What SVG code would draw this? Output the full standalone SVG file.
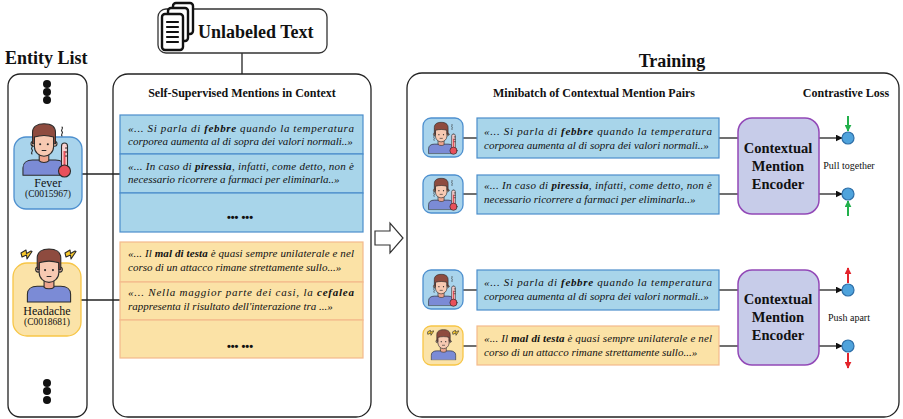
<svg xmlns="http://www.w3.org/2000/svg" xmlns:xlink="http://www.w3.org/1999/xlink" width="903" height="419" viewBox="0 0 903 419" font-family="'Liberation Serif', 'DejaVu Serif', serif">
  <style>
    text { font-family: "Liberation Serif", "DejaVu Serif", serif; fill: #111; }
    .title { font-size: 18px; font-weight: bold; }
    .head { font-size: 12px; font-weight: bold; }
    .q { font-size: 11px; font-style: italic; }
    .q .k { font-weight: bold; }
    .dots { font-family: "Liberation Sans", "DejaVu Sans", sans-serif; font-size: 11px; font-weight: bold; }
    .name { font-size: 12px; }
    .code { font-size: 9.5px; }
    .enc { font-size: 14.5px; font-weight: bold; }
    .lbl { font-size: 10px; }
    .panel { fill: #fff; stroke: #222; stroke-width: 1.3; }
    .blue { fill: #a8d5ea; stroke: #4b8ecb; stroke-width: 1.2; }
    .orange { fill: #fbe2a6; stroke: #f4b98c; stroke-width: 1.2; }
    .nblue { fill: #a9d4ec; stroke: #4e90cf; stroke-width: 1.3; }
    .norange { fill: #fbe3a8; stroke: #f7c647; stroke-width: 1.3; }
    .encoder { fill: #c7cce9; stroke: #9248b7; stroke-width: 1.5; }
    .emb { fill: #4fa3dc; stroke: #2f6fa8; stroke-width: 1.2; }
    .wire { stroke: #222; stroke-width: 1.3; fill: none; }
    .ink { stroke: #2b2b2b; stroke-width: 1.1; stroke-linejoin: round; stroke-linecap: round; }
  </style>
  <defs>
    <marker id="arrow-black" viewBox="0 0 10 10" refX="9" refY="5" markerWidth="7" markerHeight="7" markerUnits="userSpaceOnUse" orient="auto">
      <path d="M0,0 L10,5 L0,10 z" fill="#111"/>
    </marker>
    <marker id="arrow-green" viewBox="0 0 10 10" refX="9" refY="5" markerWidth="7" markerHeight="7" markerUnits="userSpaceOnUse" orient="auto">
      <path d="M0,0 L10,5 L0,10 z" fill="#22b04b"/>
    </marker>
    <marker id="arrow-red" viewBox="0 0 10 10" refX="9" refY="5" markerWidth="7" markerHeight="7" markerUnits="userSpaceOnUse" orient="auto">
      <path d="M0,0 L10,5 L0,10 z" fill="#e3242b"/>
    </marker>

    <!-- person avatar -->
    <symbol id="person" viewBox="0 0 46 56">
      <path class="ink" d="M1,55 L1,47 C1,42 5,39 11,39 L35,39 C41,39 45,42 45,47 L45,55 Z" fill="#7b8bd6"/>
      <path class="ink" d="M18,32 L28,32 L28,40 C26,42 20,42 18,40 Z" fill="#eea58e"/>
      <circle class="ink" cx="12" cy="22" r="2.6" fill="#f7c9b2"/>
      <circle class="ink" cx="34" cy="22" r="2.6" fill="#f7c9b2"/>
      <path class="ink" d="M13,11 L33,11 L33,25 C33,31 28,35 23,35 C18,35 13,31 13,25 Z" fill="#f7c9b2"/>
      <path class="ink" d="M11,22 L11,10 C11,4 16,1 23,1 C30,1 35,4 35,10 L35,22 L33,22 L33,15 C27,13 19,13 13,15 L13,22 Z" fill="#8e4b3f"/>
      <circle cx="19" cy="22.5" r="1.1" fill="#2b2b2b"/>
      <circle cx="27" cy="22.5" r="1.1" fill="#2b2b2b"/>
      <path class="ink" d="M21,29 L25,29" fill="none"/>
    </symbol>

    <!-- thermometer -->
    <symbol id="thermo" viewBox="0 0 14 36">
      <rect class="ink" x="4" y="1" width="6" height="26" rx="3" fill="#f9d0d0"/>
      <rect x="6" y="9" width="2" height="17" fill="#e8505b"/>
      <circle class="ink" cx="7" cy="29" r="6" fill="#e8505b"/>
      <path class="ink" d="M8,6 L10,6 M8,10 L10,10 M8,14 L10,14" fill="none"/>
    </symbol>

    <!-- lightning bolt -->
    <symbol id="bolt" viewBox="0 0 13 11">
      <polygon class="ink" points="1,4 6,1 6.5,4.5 11,2 12,2.5 7,10 6.5,6 2,8" fill="#f7c82b"/>
    </symbol>

    <symbol id="fever-icon" viewBox="0 0 50 58">
      <use xlink:href="#person" x="0" y="2" width="44" height="55"/>
      <use xlink:href="#thermo" x="35" y="22" width="15" height="36"/>
      <path class="ink" d="M40,7 c2,1.5 -2,3 0,4.5 c2,1.5 -2,3 0,4.5" fill="none"/>
      <path class="ink" d="M10,25 c2,1.5 -2,3 0,4.5 c2,1.5 -2,3 0,4.5" fill="none"/>
    </symbol>

    <symbol id="headache-icon" viewBox="0 0 58 58">
      <use xlink:href="#person" x="6" y="1" width="46" height="55"/>
      <use xlink:href="#bolt" x="0" y="2" width="13" height="11"/>
      <use xlink:href="#bolt" x="44" y="2" width="13" height="11"/>
    </symbol>
  </defs>

  <!-- panels -->
  <text class="title" x="5" y="64">Entity List</text>
  <g id="entity-list">
    <rect class="panel" x="8" y="74" width="79" height="343" rx="12"/>
    <circle cx="47" cy="84" r="4" fill="#111"/>
    <circle cx="47" cy="92" r="4" fill="#111"/>
    <circle cx="47" cy="100" r="4" fill="#111"/>
    <circle cx="47" cy="383" r="4" fill="#111"/>
    <circle cx="47" cy="391" r="4" fill="#111"/>
    <circle cx="47" cy="400" r="4" fill="#111"/>
  </g>

  <g id="mentions">
    <rect class="panel" x="113" y="74" width="258" height="343" rx="15"/>
    <text class="head" x="242" y="97" text-anchor="middle">Self-Supervised Mentions in Context</text>
  </g>

  <text class="title" x="672" y="67" text-anchor="middle">Training</text>
  <g id="training">
    <rect class="panel" x="407" y="73" width="492" height="344" rx="15"/>
    <text class="head" x="594" y="97" text-anchor="middle">Minibatch of Contextual Mention Pairs</text>
    <text class="head" x="846" y="97" text-anchor="middle">Contrastive Loss</text>
  </g>

  <g id="connectors">
    <line class="wire" x1="242" y1="53" x2="242" y2="74"/>
    <line class="wire" x1="82" y1="174" x2="120" y2="174"/>
    <line class="wire" x1="81" y1="300" x2="120" y2="300"/>
    <line class="wire" x1="463" y1="138" x2="477" y2="138"/>
    <line class="wire" x1="463" y1="194" x2="477" y2="194"/>
    <line class="wire" x1="463" y1="290" x2="477" y2="290"/>
    <line class="wire" x1="463" y1="346" x2="477" y2="346"/>
    <line class="wire" x1="719" y1="138" x2="738" y2="138"/>
    <line class="wire" x1="719" y1="194" x2="738" y2="194"/>
    <line class="wire" x1="719" y1="290" x2="738" y2="290"/>
    <line class="wire" x1="719" y1="346" x2="738" y2="346"/>
    <line class="wire" x1="819" y1="138" x2="842" y2="138" marker-end="url(#arrow-black)"/>
    <line class="wire" x1="819" y1="194" x2="842" y2="194" marker-end="url(#arrow-black)"/>
    <line class="wire" x1="819" y1="290" x2="842" y2="290" marker-end="url(#arrow-black)"/>
    <line class="wire" x1="819" y1="346" x2="842" y2="346" marker-end="url(#arrow-black)"/>
    <line x1="848" y1="116" x2="848" y2="131" stroke="#22b04b" stroke-width="2" marker-end="url(#arrow-green)"/>
    <line x1="848" y1="216" x2="848" y2="201" stroke="#22b04b" stroke-width="2" marker-end="url(#arrow-green)"/>
    <line x1="848" y1="283" x2="848" y2="268" stroke="#e3242b" stroke-width="2" marker-end="url(#arrow-red)"/>
    <line x1="848" y1="353" x2="848" y2="368" stroke="#e3242b" stroke-width="2" marker-end="url(#arrow-red)"/>
  </g>

  <g id="fever">
    <rect class="nblue" x="14" y="137" width="68" height="72" rx="12"/>
    <use xlink:href="#fever-icon" x="22" y="120" width="50" height="58"/>
    <text class="name" x="48" y="187" text-anchor="middle">Fever</text>
    <text class="code" x="48" y="197" text-anchor="middle">(C0015967)</text>
  </g>

  <g id="headache">
    <rect class="norange" x="13" y="263" width="68" height="73" rx="14"/>
    <use xlink:href="#headache-icon" x="20" y="247" width="58" height="58"/>
    <text class="name" x="47" y="315" text-anchor="middle">Headache</text>
    <text class="code" x="47" y="325" text-anchor="middle">(C0018681)</text>
  </g>

  <!-- Unlabeled text source -->
  <g id="unlabeled-text">
    <rect x="158" y="9" width="169" height="44" rx="8" fill="#fff" stroke="#333" stroke-width="1.3"/>
    <g fill="#fff" stroke="#111" stroke-width="2.4" stroke-linejoin="round">
      <rect x="173" y="3" width="20" height="31" rx="3"/>
      <rect x="168" y="8" width="20" height="33" rx="3"/>
      <rect x="162" y="14" width="21" height="36" rx="3"/>
      <path d="M167,22 H178 M167,27 H178 M167,32 H178 M167,37 H178 M167,42 H178" fill="none" stroke-width="2.2" stroke-linecap="round"/>
    </g>
    <text class="title" x="198" y="38">Unlabeled Text</text>
  </g>

  <g id="fever-mentions">
    <rect class="blue" x="120" y="115" width="243" height="39"/>
    <rect class="blue" x="120" y="154" width="243" height="39"/>
    <rect class="blue" x="120" y="193" width="243" height="39"/>
    <text class="q" x="128" y="132" textLength="226" lengthAdjust="spacing">«... Si parla di <tspan class="k">febbre</tspan> quando la temperatura</text>
    <text class="q" x="128" y="145">corporea aumenta al di sopra dei valori normali..»</text>
    <text class="q" x="128" y="170" textLength="226" lengthAdjust="spacing">«... In caso di <tspan class="k">piressia</tspan>, infatti, come detto, non è</text>
    <text class="q" x="128" y="183">necessario ricorrere a farmaci per eliminarla..»</text>
    <text class="dots" x="240" y="221" text-anchor="middle">•••  •••</text>
  </g>

  <g id="headache-mentions">
    <rect class="orange" x="120" y="242" width="243" height="40"/>
    <rect class="orange" x="120" y="282" width="243" height="38"/>
    <rect class="orange" x="120" y="320" width="243" height="38"/>
    <text class="q" x="128" y="257" textLength="226" lengthAdjust="spacing">«... Il <tspan class="k">mal di testa</tspan> è quasi sempre unilaterale e nel</text>
    <text class="q" x="128" y="271">corso di un attacco rimane strettamente sullo...»</text>
    <text class="q" x="128" y="296" textLength="226" lengthAdjust="spacing">«... Nella maggior parte dei casi, la <tspan class="k">cefalea</tspan></text>
    <text class="q" x="128" y="310">rappresenta il risultato dell'interazione tra  ...»</text>
    <text class="dots" x="240" y="350" text-anchor="middle">•••  •••</text>
  </g>

  <!-- flow arrow -->
  <g id="flow-arrow">
    <polygon points="375,231 390,231 390,223 403,238 390,253 390,245 375,245" fill="#fff" stroke="#333" stroke-width="1.2" stroke-linejoin="miter"/>
  </g>

  <g id="pair1-a">
    <rect class="nblue" x="423" y="118" width="40" height="39" rx="8"/>
    <use xlink:href="#fever-icon" x="428" y="120" width="30" height="35"/>
    <rect class="blue" x="477" y="118" width="242" height="40"/>
    <text class="q" x="484" y="135" textLength="228" lengthAdjust="spacing">«... Si parla di <tspan class="k">febbre</tspan> quando la temperatura</text>
    <text class="q" x="484" y="149">corporea aumenta al di sopra dei valori normali..»</text>
  </g>

  <g id="pair1-b">
    <rect class="nblue" x="423" y="175" width="40" height="38" rx="8"/>
    <use xlink:href="#fever-icon" x="428" y="176" width="30" height="35"/>
    <rect class="blue" x="477" y="175" width="242" height="39"/>
    <text class="q" x="484" y="189" textLength="228" lengthAdjust="spacing">«... In caso di <tspan class="k">piressia</tspan>, infatti, come detto, non è</text>
    <text class="q" x="484" y="203">necessario ricorrere a farmaci per eliminarla..»</text>
  </g>

  <g id="encoder-1">
    <rect class="encoder" x="738" y="118" width="81" height="96" rx="14"/>
    <text class="enc" x="778" y="153" text-anchor="middle">Contextual</text>
    <text class="enc" x="778" y="171" text-anchor="middle">Mention</text>
    <text class="enc" x="778" y="189" text-anchor="middle">Encoder</text>
  </g>

  <g id="loss-positive">
    <circle class="emb" cx="848" cy="138" r="6"/>
    <circle class="emb" cx="848" cy="194" r="6"/>
    <text class="lbl" x="849" y="169" text-anchor="middle">Pull together</text>
  </g>

  <g id="pair2-a">
    <rect class="nblue" x="423" y="270" width="40" height="39" rx="8"/>
    <use xlink:href="#fever-icon" x="428" y="272" width="30" height="35"/>
    <rect class="blue" x="477" y="270" width="242" height="40"/>
    <text class="q" x="484" y="286" textLength="228" lengthAdjust="spacing">«... Si parla di <tspan class="k">febbre</tspan> quando la temperatura</text>
    <text class="q" x="484" y="300">corporea aumenta al di sopra dei valori normali..»</text>
  </g>

  <g id="pair2-b">
    <rect class="norange" x="423" y="326" width="40" height="39" rx="8"/>
    <use xlink:href="#headache-icon" x="427" y="328" width="33" height="34"/>
    <rect class="orange" x="477" y="326" width="242" height="39"/>
    <text class="q" x="484" y="342" textLength="228" lengthAdjust="spacing">«... Il <tspan class="k">mal di testa</tspan> è quasi sempre unilaterale e nel</text>
    <text class="q" x="484" y="356">corso di un attacco rimane strettamente sullo...»</text>
  </g>

  <g id="encoder-2">
    <rect class="encoder" x="738" y="270" width="81" height="95" rx="14"/>
    <text class="enc" x="778" y="304" text-anchor="middle">Contextual</text>
    <text class="enc" x="778" y="322" text-anchor="middle">Mention</text>
    <text class="enc" x="778" y="340" text-anchor="middle">Encoder</text>
  </g>

  <g id="loss-negative">
    <circle class="emb" cx="848" cy="290" r="6"/>
    <circle class="emb" cx="848" cy="346" r="6"/>
    <text class="lbl" x="849" y="321" text-anchor="middle">Push apart</text>
  </g>
</svg>
